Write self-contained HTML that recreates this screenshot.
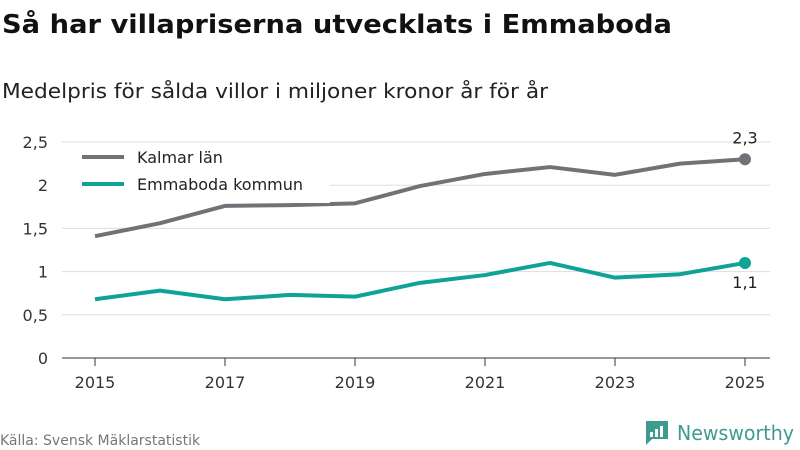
<!DOCTYPE html>
<html><head><meta charset="utf-8"><style>
body{margin:0;background:#fff;}
svg{display:block;font-family:"DejaVu Sans","Liberation Sans",sans-serif;}
</style></head><body>
<svg width="800" height="450" viewBox="0 0 800 450">
<text x="2" y="33" font-size="26" font-weight="bold" fill="#111" textLength="670" lengthAdjust="spacingAndGlyphs">Så har villapriserna utvecklats i Emmaboda</text>
<text x="2" y="98" font-size="20" fill="#222" textLength="546" lengthAdjust="spacingAndGlyphs">Medelpris för sålda villor i miljoner kronor år för år</text>
<g id="grid"></g>
<g id="yticks"></g>
<g id="xticks"></g>
<g id="series"></g>
<g>
<rect x="62" y="143" width="268" height="60" fill="#fff"/>
<line x1="82" y1="157" x2="124" y2="157" stroke="#737178" stroke-width="4"/>
<text x="137" y="163" font-size="16" fill="#222">Kalmar län</text>
<line x1="82" y1="184" x2="124" y2="184" stroke="#0fa297" stroke-width="4"/>
<text x="137" y="190" font-size="16" fill="#222">Emmaboda kommun</text>
</g>
<text x="0" y="445" font-size="14" fill="#777">Källa: Svensk Mäklarstatistik</text>
<g>
<path d="M646 421h22v18h-16l-6 6z" fill="#3f9a8f"/>
<rect x="650" y="432" width="3" height="5" fill="#fff"/><rect x="655" y="429" width="3" height="8" fill="#fff"/><rect x="660" y="426" width="3" height="11" fill="#fff"/>
<text x="677" y="440" font-size="20" fill="#3f9a8f" textLength="117" lengthAdjust="spacingAndGlyphs">Newsworthy</text>
</g>
</svg>
<script>
const years=[2015,2016,2017,2018,2019,2020,2021,2022,2023,2024,2025];
const kalmar=[1.41,1.56,1.76,1.77,1.79,1.99,2.13,2.21,2.12,2.25,2.3];
const emmaboda=[0.68,0.78,0.68,0.73,0.71,0.87,0.96,1.1,0.93,0.97,1.1];
const yTicks=[0,0.5,1,1.5,2,2.5];
const yTickLabels=["0","0,5","1","1,5","2","2,5"];
const xTickLabels=["2015","2017","2019","2021","2023","2025"];
const endLabels=["2,3","1,1"];
const NS="http://www.w3.org/2000/svg";
const x=v=>95+(v-2015)*65;
const y=v=>358-v*86.4;
function mk(tag,attrs,parent){const e=document.createElementNS(NS,tag);for(const k in attrs)e.setAttribute(k,attrs[k]);parent.appendChild(e);return e;}
const grid=document.getElementById('grid'),yt=document.getElementById('yticks'),xt=document.getElementById('xticks'),ser=document.getElementById('series');
yTicks.forEach((t,i)=>{
 const l=mk('line',{x1:62,x2:770,y1:y(t),y2:y(t),stroke:t===0?'#333':'#ddd','stroke-width':1},grid);
 
 
 const tx=mk('text',{x:48,y:y(t)+6,'font-size':16,fill:'#333','text-anchor':'end'},yt);
 tx.textContent=yTickLabels[i];
 
 
});
xTickLabels.forEach(s=>{
 const v=+s;
 const tk=mk('line',{x1:x(v),x2:x(v),y1:358,y2:366,stroke:'#333'},xt);
 
 
 const tx=mk('text',{x:x(v),y:388,'font-size':16,fill:'#333','text-anchor':'middle'},xt);
 tx.textContent=s;
 
 
});
function line(vals,color,name,labIdx,dy){
 const p=mk('polyline',{points:vals.map((v,i)=>x(years[i])+','+y(v)).join(' '),fill:'none',stroke:color,'stroke-width':4,'stroke-linejoin':'round'},ser);
 
 
 const n=vals.length-1;
 const c=mk('circle',{cx:x(years[n]),cy:y(vals[n]),r:6,fill:color},ser);
 
 
 const t=mk('text',{x:x(years[n]),y:y(vals[n])+dy,'font-size':16,fill:'#222','text-anchor':'middle'},ser);
 t.textContent=endLabels[labIdx];
 
 
}
line(kalmar,'#737178','kalmar',0,-16);
line(emmaboda,'#0fa297','emmaboda',1,25);
</script>
</body></html>
